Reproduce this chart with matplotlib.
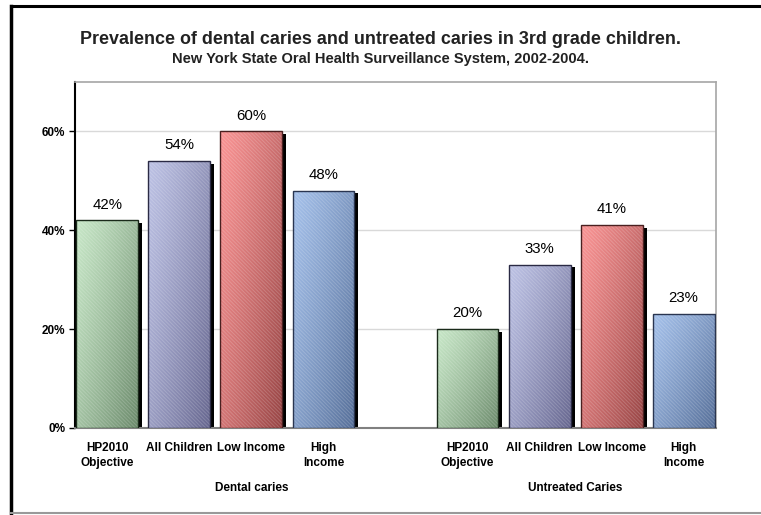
import numpy as np
import matplotlib
matplotlib.use("Agg")
import matplotlib.pyplot as plt
from matplotlib.patches import Rectangle
from matplotlib.lines import Line2D
from matplotlib.transforms import ScaledTranslation, blended_transform_factory

plt.rcParams["font.family"] = ["Liberation Sans", "DejaVu Sans"]
plt.rcParams["hatch.linewidth"] = 0.7

# Chart data
categories = ["HP2010\nObjective", "All Children", "Low Income", "High\nIncome"]
groups = ["Dental caries", "Untreated Caries"]
dental_caries = [42, 54, 60, 48]
untreated_caries = [20, 33, 41, 23]
y_ticks = [0, 20, 40, 60]

# light / dark ends of each bar's gradient
light_colors = ["#c6e6c6", "#bcc1e4", "#f99393", "#a3bfe9"]
dark_colors = ["#6b8a6b", "#66668f", "#974444", "#556e98"]
edge_colors = ["#1a2a1a", "#2a2a44", "#4a2020", "#2a3550"]

W, H, DPI = 761, 515, 100
fig = plt.figure(figsize=(W / DPI, H / DPI), dpi=DPI)
ax = fig.add_axes([75 / W, 1 - 428 / H, (716 - 75) / W, (428 - 82) / H])

# bar positions: the empty slot at 4 separates the two groups
positions = [0, 1, 2, 3, 5, 6, 7, 8]
values = dental_caries + untreated_caries
width = 0.86


def hex_rgb(h):
    return np.array([int(h[i:i + 2], 16) for i in (1, 3, 5)]) / 255.0


shadow = ax.transData + ScaledTranslation(4 / DPI, -2.5 / DPI, fig.dpi_scale_trans)

for i, (x, v) in enumerate(zip(positions, values)):
    c = i % 4
    x0 = x - width / 2
    # drop shadow
    ax.add_patch(Rectangle((x0, 0), width, v, facecolor="black", edgecolor="none",
                           transform=shadow, zorder=2))
    bar = Rectangle((x0, 0), width, v, facecolor="none", edgecolor=edge_colors[c],
                    linewidth=1.0, zorder=5)
    ax.add_patch(bar)
    # diagonal gradient, light at top-left, dark at bottom-right
    u = np.linspace(0, 1, 60)[None, :]
    w = np.linspace(0, 1, 120)[:, None]
    t = np.clip(0.55 * u + 0.45 * w, 0, 1) ** 1.2
    lo, hi = hex_rgb(light_colors[c]), hex_rgb(dark_colors[c])
    img = lo[None, None, :] * (1 - t[..., None]) + hi[None, None, :] * t[..., None]
    im = ax.imshow(img, extent=(x0, x0 + width, 0, v), origin="upper",
                   aspect="auto", zorder=3, interpolation="bilinear")
    clip = Rectangle((x0, 0), width, v, transform=ax.transData)
    im.set_clip_path(clip)
    # fine diagonal stripes
    ax.add_patch(Rectangle((x0, 0), width, v, facecolor="none",
                           edgecolor=(1, 1, 1, 0.18), linewidth=0,
                           hatch="\\" * 9, zorder=4))
    ax.text(x, v + 1.8, f"{v}%", ha="center", va="bottom", fontsize=10.8)

ax.set_xlim(-0.45, 8.45)
ax.set_ylim(0, 70)

ax.set_yticks(y_ticks)
ax.set_yticklabels([f"{t}%" for t in y_ticks], fontsize=8.5, fontweight="bold")
ax.tick_params(axis="y", direction="out", length=4, width=1, pad=3)
ax.yaxis.grid(True, color="#d9d9d9", linewidth=1)
ax.set_axisbelow(True)

ax.set_xticks(positions)
ax.set_xticklabels(categories * 2, fontsize=8.5, fontweight="bold", linespacing=1.35)
ax.tick_params(axis="x", length=0, pad=10)

ax.spines["left"].set_color("black")
ax.spines["left"].set_linewidth(1.5)
ax.spines["bottom"].set_color("#808080")
ax.spines["bottom"].set_linewidth(1.5)
for s in ("top", "right"):
    ax.spines[s].set_color("#a6a6a6")
    ax.spines[s].set_linewidth(1.2)

# group labels under the categories
trans = blended_transform_factory(ax.transData, ax.transAxes)
for gx, g in zip([2, 6.5], groups):
    ax.text(gx, (428 - 488) / 346, g, transform=trans, ha="center", va="center",
            fontsize=8.5, fontweight="bold")

fig.text(0.5, 1 - 39 / H, "Prevalence of dental caries and untreated caries in 3rd grade children.",
         ha="center", va="center", fontsize=12.9, fontweight="bold", color="#222222")
fig.text(0.5, 1 - 59 / H, "New York State Oral Health Surveillance System, 2002-2004.",
         ha="center", va="center", fontsize=10.5, fontweight="bold", color="#222222")

# outer frame
fig.add_artist(Line2D([11 / W, 1], [1 - 6 / H, 1 - 6 / H], color="black", linewidth=2.2))
fig.add_artist(Line2D([11 / W, 11 / W], [1 - 6 / H, 1 - 513 / H], color="black", linewidth=2.5))
fig.add_artist(Line2D([11 / W, 1], [1 - 513 / H, 1 - 513 / H], color="#999999", linewidth=1.5))

fig.savefig("out.png", dpi=DPI, facecolor="white")
